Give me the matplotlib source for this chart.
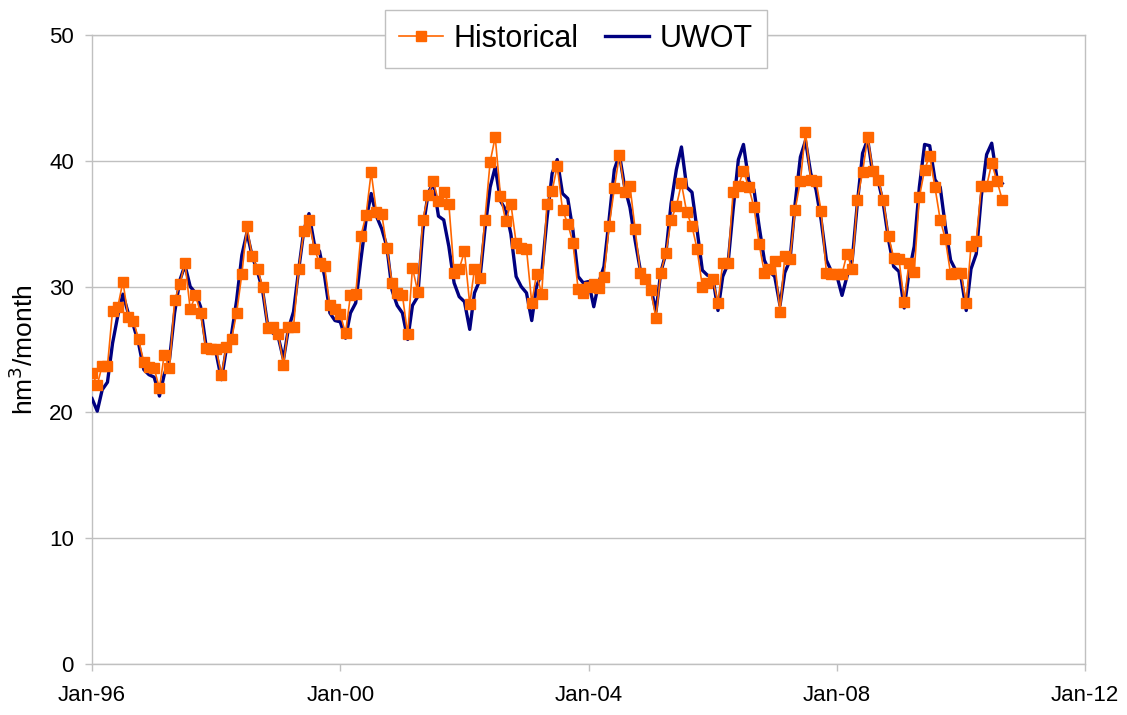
import matplotlib
matplotlib.use("Agg")
import matplotlib.pyplot as plt
import pandas as pd

plt.rcParams['font.family'] = ['Liberation Sans', 'DejaVu Sans']

start_month = "1996-01-01"

historical = [
    23.1, 22.2, 23.7, 23.7, 28.1, 28.4, 30.4, 27.6, 27.3, 25.8, 24.0, 23.6,
    23.5, 21.9, 24.6, 23.5, 28.9, 30.2, 31.9, 28.2, 29.3, 27.9, 25.1, 25.0,
    25.0, 23.0, 25.2, 25.8, 27.9, 31.0, 34.8, 32.4, 31.4, 30.0, 26.7, 26.8,
    26.2, 23.8, 26.8, 26.8, 31.4, 34.4, 35.3, 33.0, 31.9, 31.6, 28.5, 28.2,
    27.8, 26.3, 29.3, 29.4, 34.0, 35.7, 39.1, 35.9, 35.8, 33.1, 30.3, 29.5,
    29.3, 26.2, 31.5, 29.6, 35.3, 37.3, 38.4, 36.8, 37.5, 36.6, 31.1, 31.4,
    32.8, 28.6, 31.4, 30.7, 35.3, 39.9, 41.9, 37.2, 35.2, 36.6, 33.5, 33.1,
    33.0, 28.7, 31.0, 29.4, 36.6, 37.6, 39.6, 36.1, 35.0, 33.5, 29.8, 29.5,
    30.0, 30.2, 29.9, 30.8, 34.8, 37.8, 40.5, 37.5, 38.0, 34.6, 31.1, 30.6,
    29.7, 27.5, 31.1, 32.7, 35.3, 36.4, 38.2, 35.9, 34.8, 33.0, 30.0, 30.3,
    30.6, 28.7, 31.9, 31.9, 37.5, 38.0, 39.2, 37.9, 36.3, 33.4, 31.1, 31.4,
    32.0, 28.0, 32.4, 32.2, 36.1, 38.4, 42.3, 38.5, 38.4, 36.0, 31.1, 31.0,
    31.0, 31.0, 32.6, 31.4, 36.9, 39.1, 41.9, 39.2, 38.5, 36.9, 34.0, 32.3,
    32.2, 28.8, 31.9, 31.2, 37.1, 39.3, 40.4, 37.9, 35.3, 33.8, 31.0, 31.1,
    31.1, 28.7, 33.2, 33.6, 38.0, 38.0, 39.8, 38.4, 36.9,
]

uwot = [
    21.1, 20.1, 21.8, 22.4, 25.5, 27.7, 29.4, 27.9, 26.9, 25.5, 23.4, 23.0,
    22.8, 21.3, 23.0, 24.2, 27.9, 30.5, 31.7, 30.0, 29.5, 28.4, 25.4, 24.8,
    24.7, 22.6, 25.0, 26.2, 28.9, 32.5, 34.3, 32.4, 31.2, 29.7, 26.8, 26.3,
    26.0, 24.2, 26.6, 28.0, 31.3, 34.5, 35.8, 33.4, 32.8, 30.8, 27.9, 27.3,
    27.2, 25.9, 27.9, 28.7, 32.1, 35.3, 37.4, 35.6, 34.6, 33.2, 29.7, 28.5,
    27.9, 25.8, 28.5, 29.2, 34.5, 37.4, 38.3, 35.6, 35.3, 33.2, 30.3, 29.2,
    28.8, 26.6, 29.5, 30.5, 34.5, 37.9, 39.5, 36.8, 36.1, 34.2, 30.8, 30.0,
    29.5, 27.3, 30.0, 31.1, 35.3, 39.0, 40.1, 37.4, 37.0, 34.5, 30.8, 30.3,
    30.4, 28.4, 30.3, 31.6, 35.3, 39.3, 40.5, 37.9, 36.3, 33.7, 31.3, 30.5,
    30.0, 28.0, 31.1, 32.7, 36.6, 39.3, 41.1, 37.9, 37.5, 34.5, 31.3, 30.9,
    30.8, 28.1, 30.8, 31.8, 36.1, 40.1, 41.3, 38.4, 37.7, 34.8, 32.1, 31.2,
    30.8, 28.5, 31.1, 32.1, 36.6, 40.3, 41.6, 39.0, 37.7, 35.3, 32.1, 31.2,
    30.9, 29.3, 30.8, 32.1, 36.6, 40.6, 41.7, 38.9, 38.4, 36.6, 33.7, 31.6,
    31.2, 28.3, 31.1, 33.2, 37.9, 41.3, 41.2, 38.5, 37.9, 34.8, 32.1, 31.3,
    30.8, 28.1, 31.4, 32.6, 37.2, 40.5, 41.4, 38.6, 38.2,
]

x_tick_labels = ["Jan-96", "Jan-00", "Jan-04", "Jan-08", "Jan-12"]
x_tick_years = [1996, 2000, 2004, 2008, 2012]
y_ticks = [0, 10, 20, 30, 40, 50]

dates_h = pd.date_range(start_month, periods=len(historical), freq="MS")
dates_u = pd.date_range(start_month, periods=len(uwot), freq="MS")

fig = plt.figure(figsize=(11.27, 7.15), dpi=100)
ax = fig.add_axes([92/1127, 1-664/715, (1085-92)/1127, (664-35)/715])

grid_c = "#C0C0C0"
ax.plot(dates_u, uwot, color="#000080", lw=2.4, zorder=3, label="UWOT",
        solid_joinstyle="round")
ax.plot(dates_h, historical, color="#FF6600", lw=1.2, marker="s", ms=7,
        mec="#FF6600", mfc="#FF6600", zorder=4, label="Historical")

ax.set_ylim(0, 50)
ax.set_yticks(y_ticks)
ax.set_xlim(pd.Timestamp("1996-01-01"), pd.Timestamp("2012-01-01"))
ax.set_xticks([pd.Timestamp(f"{y}-01-01") for y in x_tick_years])
ax.set_xticklabels(x_tick_labels)

ax.yaxis.grid(True, color=grid_c, lw=1)
ax.set_axisbelow(True)
for s in ax.spines.values():
    s.set_color(grid_c)
    s.set_linewidth(1)
ax.tick_params(axis="both", colors=grid_c, labelcolor="black", labelsize=16,
               length=5, width=1, direction="out")
ax.tick_params(axis="x", pad=10)
ax.tick_params(axis="y", pad=8)

ax.set_ylabel("hm$^3$/month", fontsize=19, labelpad=8)

handles, labels = ax.get_legend_handles_labels()
order = [1, 0]
leg = fig.legend([handles[i] for i in order], [labels[i] for i in order],
                 loc="upper center", bbox_to_anchor=(576/1127, 1-4/715),
                 ncol=2, fontsize=22, frameon=True, fancybox=False,
                 edgecolor=grid_c, framealpha=1, handlelength=1.45,
                 columnspacing=0.85, handletextpad=0.35, borderpad=0.45,
                 borderaxespad=0.2)
leg.get_frame().set_linewidth(1)

fig.savefig("out.png", dpi=100)
